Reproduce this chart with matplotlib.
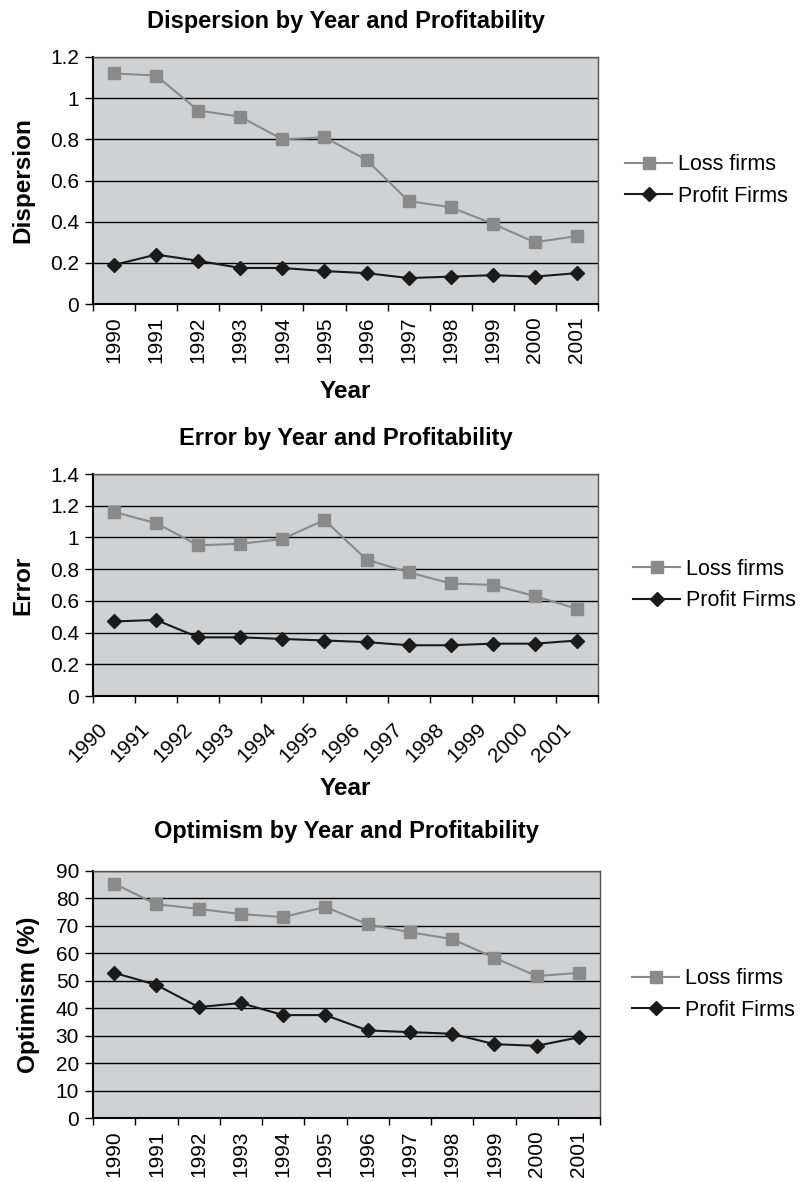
import numpy as np
import matplotlib.pyplot as plt

plt.rcParams['font.family'] = ['Liberation Sans', 'DejaVu Sans']

years = [str(y) for y in range(1990, 2002)]

disp_loss = [1.12, 1.11, 0.94, 0.91, 0.80, 0.81, 0.70, 0.50, 0.47, 0.39, 0.30, 0.33]
disp_profit = [0.19, 0.24, 0.21, 0.175, 0.175, 0.16, 0.15, 0.126, 0.133, 0.14, 0.133, 0.15]

err_loss = [1.16, 1.09, 0.95, 0.96, 0.99, 1.11, 0.86, 0.78, 0.71, 0.70, 0.63, 0.55]
err_profit = [0.47, 0.48, 0.37, 0.37, 0.36, 0.35, 0.34, 0.32, 0.32, 0.33, 0.33, 0.35]

opt_loss = [85.4, 77.9, 76.2, 74.3, 73.2, 76.9, 70.6, 67.7, 65.2, 58.4, 51.7, 52.9]
opt_profit = [52.9, 48.5, 40.4, 41.9, 37.5, 37.5, 31.9, 31.3, 30.7, 26.9, 26.3, 29.4]

W, H = 801, 1182
fig = plt.figure(figsize=(W / 100, H / 100), dpi=100)

BG = '#d0d1d3'
LOSS = '#8a8a8a'
PROFIT = '#1a1a1a'


def make_axes(left, top, right, bottom):
    return fig.add_axes([left / W, 1 - bottom / H, (right - left) / W, (bottom - top) / H])


def panel(ax, loss, profit, ymax, ystep, title, ylabel, xlabel, slanted, tpad, leg_x):
    x = np.arange(len(years))
    ax.set_facecolor(BG)
    ax.plot(x, loss, color=LOSS, lw=1.5, marker='s', ms=8, mfc=LOSS, mec=LOSS,
            label='Loss firms', zorder=3)
    ax.plot(x, profit, color=PROFIT, lw=1.5, marker='D', ms=7, mfc=PROFIT, mec=PROFIT,
            label='Profit Firms', zorder=3)
    ax.set_xlim(-0.5, len(years) - 0.5)
    ax.set_ylim(0, ymax)
    yt = np.arange(0, ymax + ystep / 2, ystep)
    ax.set_yticks(yt)
    ax.set_yticklabels(['%g' % round(v, 1) for v in yt], fontsize=15)
    ax.yaxis.grid(True, color='black', lw=1.0)
    ax.set_axisbelow(True)
    ax.tick_params(axis='y', direction='out', length=6, width=1, pad=4)
    # category boundaries carry the ticks
    ax.set_xticks(np.arange(len(years) + 1) - 0.5, minor=True)
    ax.tick_params(axis='x', which='minor', direction='out', length=5, width=1)
    if slanted:
        ax.set_xticks(np.arange(len(years)) - 0.38)
        ax.set_xticklabels(years, rotation=45, ha='right', rotation_mode='anchor', fontsize=15)
        ax.tick_params(axis='x', which='major', length=0, pad=17)
    else:
        ax.set_xticks(x)
        ax.set_xticklabels(years, rotation=90, fontsize=15)
        ax.tick_params(axis='x', which='major', length=0, pad=9)
    for s in ['left', 'bottom']:
        ax.spines[s].set_color('black')
        ax.spines[s].set_linewidth(1.5)
    for s in ['top', 'right']:
        ax.spines[s].set_color('#555555')
        ax.spines[s].set_linewidth(1.0)
    ax.set_title(title, fontsize=17, fontweight='bold', pad=tpad)
    ax.set_ylabel(ylabel, fontsize=17.5, fontweight='bold', labelpad=11)
    if xlabel:
        ax.set_xlabel(xlabel, fontsize=17.5, fontweight='bold', labelpad=12 if not slanted else 8)
    pos = ax.get_position()
    lx = (leg_x / W - pos.x0) / pos.width
    ax.legend(loc='center left', bbox_to_anchor=(lx, 0.5), frameon=False,
              fontsize=15.5, handlelength=2.2, labelspacing=0.5, handletextpad=0.25,
              borderaxespad=0, borderpad=0)


ax1 = make_axes(93, 57, 598, 304)
panel(ax1, disp_loss, disp_profit, 1.2, 0.2,
      'Dispersion by Year and Profitability', 'Dispersion', 'Year', False, 21, 625)

ax2 = make_axes(93, 474, 598, 696)
panel(ax2, err_loss, err_profit, 1.4, 0.2,
      'Error by Year and Profitability', 'Error', 'Year', True, 21, 633)

ax3 = make_axes(93, 871, 600, 1118)
panel(ax3, opt_loss, opt_profit, 90, 10,
      'Optimism by Year and Profitability', 'Optimism (%)', None, False, 24, 632)

fig.savefig('out.png', dpi=100)
